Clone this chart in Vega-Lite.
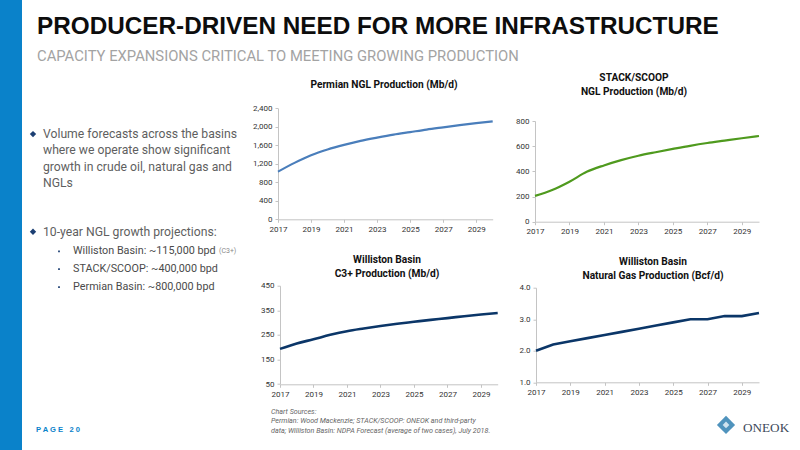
{
  "$schema": "https://vega.github.io/schema/vega-lite/v6.json",
  "background": "white",
  "padding": 0,
  "bounds": "flush",
  "spacing": 0,
  "config": {
    "view": {"stroke": null},
    "font": "Roboto",
    "axis": {"grid": false, "title": null, "domainColor": "#c4c4c4", "tickColor": "#c4c4c4", "tickSize": 3, "labelColor": "#333333", "labelFont": "Roboto", "labelFontSize": 8, "labelPadding": 3, "labelFlush": false},
    "title": {"font": "Roboto", "fontSize": 10.2, "fontWeight": "bold", "color": "#111111", "anchor": "middle", "lineHeight": 13.5}
  },
  "datasets": {
    "permian": [
      {"year": 2017, "value": 1030}, {"year": 2018, "value": 1220}, {"year": 2019, "value": 1385}, {"year": 2020, "value": 1510},
      {"year": 2021, "value": 1610}, {"year": 2022, "value": 1695}, {"year": 2023, "value": 1765}, {"year": 2024, "value": 1830},
      {"year": 2025, "value": 1885}, {"year": 2026, "value": 1940}, {"year": 2027, "value": 1988}, {"year": 2028, "value": 2035},
      {"year": 2029, "value": 2078}, {"year": 2030, "value": 2118}
    ],
    "stack": [
      {"year": 2017, "value": 205}, {"year": 2018, "value": 252}, {"year": 2019, "value": 318}, {"year": 2020, "value": 396},
      {"year": 2021, "value": 447}, {"year": 2022, "value": 489}, {"year": 2023, "value": 524}, {"year": 2024, "value": 552},
      {"year": 2025, "value": 578}, {"year": 2026, "value": 603}, {"year": 2027, "value": 625}, {"year": 2028, "value": 644},
      {"year": 2029, "value": 663}, {"year": 2030, "value": 681}
    ],
    "c3": [
      {"year": 2017, "value": 193}, {"year": 2018, "value": 215}, {"year": 2019, "value": 232}, {"year": 2020, "value": 250},
      {"year": 2021, "value": 265}, {"year": 2022, "value": 276}, {"year": 2023, "value": 286}, {"year": 2024, "value": 295},
      {"year": 2025, "value": 303}, {"year": 2026, "value": 311}, {"year": 2027, "value": 318}, {"year": 2028, "value": 326},
      {"year": 2029, "value": 333}, {"year": 2030, "value": 339}
    ],
    "gas": [
      {"year": 2017, "value": 2.0}, {"year": 2018, "value": 2.2}, {"year": 2019, "value": 2.3}, {"year": 2020, "value": 2.4},
      {"year": 2021, "value": 2.5}, {"year": 2022, "value": 2.6}, {"year": 2023, "value": 2.7}, {"year": 2024, "value": 2.8},
      {"year": 2025, "value": 2.9}, {"year": 2026, "value": 3.0}, {"year": 2027, "value": 3.0}, {"year": 2028, "value": 3.1},
      {"year": 2029, "value": 3.1}, {"year": 2030, "value": 3.2}
    ]
  },
  "hconcat": [
    {
      "width": 22,
      "height": 450,
      "data": {"values": [{"panel": "sidebar"}]},
      "mark": {"type": "rect", "color": "#0a82ca"}
    },
    {
      "bounds": "flush",
      "spacing": 0,
      "vconcat": [
        {
          "width": 778,
          "height": 108,
          "data": {"values": [
            {"line": 1, "indent": 1.5, "kind": "title", "text": "PRODUCER-DRIVEN NEED FOR MORE INFRASTRUCTURE"},
            {"line": 2, "indent": 1.5, "kind": "sub", "text": "CAPACITY EXPANSIONS CRITICAL TO MEETING GROWING PRODUCTION"}
          ]},
          "encoding": {
            "x": {"field": "indent", "type": "quantitative", "scale": {"domain": [0, 77.8]}, "axis": null},
            "y": {"field": "line", "type": "quantitative", "scale": {"domain": [3.7, 0.1], "nice": false, "zero": false}, "axis": null},
            "text": {"field": "text"}
          },
          "layer": [
            {"transform": [{"filter": "datum.kind == 'title'"}], "mark": {"type": "text", "font": "Liberation Sans", "align": "left", "baseline": "middle", "fontSize": 24.3, "fontWeight": "bold", "color": "#0d0d0d"}},
            {"transform": [{"filter": "datum.kind == 'sub'"}], "mark": {"type": "text", "align": "left", "baseline": "middle", "fontSize": 14.8, "color": "#a3a3a3"}}
          ]
        },
        {
          "bounds": "flush",
          "spacing": 0,
          "hconcat": [
            {
              "width": 256,
              "height": 342,
              "data": {"values": [
                {"line": 1, "indent": 2.1, "kind": "main", "text": "Volume forecasts across the basins"},
                {"line": 2, "indent": 2.1, "kind": "main", "text": "where we operate show significant"},
                {"line": 3, "indent": 2.1, "kind": "main", "text": "growth in crude oil, natural gas and"},
                {"line": 4, "indent": 2.1, "kind": "main", "text": "NGLs"},
                {"line": 7, "indent": 2.1, "kind": "main", "text": "10-year NGL growth projections:"},
                {"line": 8.2, "indent": 5.1, "kind": "item", "text": "Williston Basin: ~115,000 bpd"},
                {"line": 8.2, "indent": 19.7, "kind": "small", "text": "(C3+)"},
                {"line": 9.3, "indent": 5.1, "kind": "item", "text": "STACK/SCOOP: ~400,000 bpd"},
                {"line": 10.4, "indent": 5.1, "kind": "item", "text": "Permian Basin: ~800,000 bpd"},
                {"line": 19.2, "indent": 1.4, "kind": "page", "text": "P A G E \u00a0 2 0"},
                {"line": 18.06, "indent": 24.9, "kind": "note", "text": "Chart Sources:"},
                {"line": 18.61, "indent": 24.9, "kind": "note", "text": "Permian: Wood Mackenzie; STACK/SCOOP: ONEOK  and third-party"},
                {"line": 19.23, "indent": 24.9, "kind": "note", "text": "data; Williston Basin: NDPA Forecast (average of two cases), July 2018."},
                {"line": 19.07, "indent": 72.1, "kind": "logo", "text": "ONEOK"},
                {"line": 18.86, "indent": 70.4, "kind": "logomark"},
                {"line": 1, "indent": 1.1, "kind": "bullet"},
                {"line": 7, "indent": 1.1, "kind": "bullet"},
                {"line": 8.2, "indent": 3.7, "kind": "tick"},
                {"line": 9.3, "indent": 3.7, "kind": "tick"},
                {"line": 10.4, "indent": 3.7, "kind": "tick"}
              ]},
              "encoding": {
                "x": {"field": "indent", "type": "quantitative", "scale": {"domain": [0, 25.6]}, "axis": null},
                "y": {"field": "line", "type": "quantitative", "scale": {"domain": [20.4, -0.6], "nice": false, "zero": false}, "axis": null}
              },
              "layer": [
                {"transform": [{"filter": "datum.kind == 'main'"}], "mark": {"type": "text", "align": "left", "baseline": "middle", "fontSize": 12.2, "color": "#5f5f5f"}, "encoding": {"text": {"field": "text"}}},
                {"transform": [{"filter": "datum.kind == 'item'"}], "mark": {"type": "text", "align": "left", "baseline": "middle", "fontSize": 10.8, "color": "#4a4a4a"}, "encoding": {"text": {"field": "text"}}},
                {"transform": [{"filter": "datum.kind == 'small'"}], "mark": {"type": "text", "align": "left", "baseline": "middle", "fontSize": 7, "color": "#8a8a8a"}, "encoding": {"text": {"field": "text"}}},
                {"transform": [{"filter": "datum.kind == 'page'"}], "mark": {"type": "text", "font": "Liberation Sans", "align": "left", "baseline": "middle", "fontSize": 7.6, "fontWeight": "bold", "color": "#0a82ca"}, "encoding": {"text": {"field": "text"}}},
                {"transform": [{"filter": "datum.kind == 'note'"}], "mark": {"type": "text", "align": "left", "baseline": "middle", "fontSize": 7.15, "fontStyle": "italic", "color": "#666666"}, "encoding": {"text": {"field": "text"}}},
                {"transform": [{"filter": "datum.kind == 'logo'"}], "mark": {"type": "text", "align": "left", "baseline": "middle", "fontSize": 13.2, "font": "Liberation Serif", "color": "#3d4a5a"}, "encoding": {"text": {"field": "text"}}},
                {"transform": [{"filter": "datum.kind == 'logomark'"}], "mark": {"type": "point", "shape": "diamond", "filled": true, "opacity": 1, "size": 330, "color": "#4f93bd"}},
                {"transform": [{"filter": "datum.kind == 'logomark'"}], "mark": {"type": "point", "shape": "diamond", "filled": true, "opacity": 1, "size": 45, "color": "#cfe3ef"}},
                {"transform": [{"filter": "datum.kind == 'bullet'"}], "mark": {"type": "point", "shape": "diamond", "filled": true, "opacity": 1, "size": 40, "color": "#1c3f73"}},
                {"transform": [{"filter": "datum.kind == 'tick'"}], "mark": {"type": "point", "shape": "square", "filled": true, "opacity": 1, "size": 3, "color": "#1c3f73"}}
              ]
            },
            {
              "bounds": "flush",
              "columns": 2,
              "spacing": {"row": 63.7, "column": 37},
              "concat": [
                {
                  "width": 220,
                  "height": 114,
                  "title": {"text": "Permian NGL Production (Mb/d)", "dx": -4, "offset": 14},
                  "data": {"name": "permian"},
                  "mark": {"type": "line", "color": "#4a7ebb", "strokeWidth": 2.2, "interpolate": "monotone"},
                  "encoding": {
                    "x": {"field": "year", "type": "quantitative", "scale": {"domain": [2017, 2030], "range": [0, 214.7], "nice": false, "zero": false}, "axis": {"values": [2017, 2019, 2021, 2023, 2025, 2027, 2029], "format": "d", "offset": -2.7}},
                    "y": {"field": "value", "type": "quantitative", "scale": {"domain": [0, 2400], "range": [111.3, 0.3], "nice": false}, "axis": {"values": [0, 400, 800, 1200, 1600, 2000, 2400], "format": ",d"}}
                  }
                },
                {
                  "width": 224,
                  "height": 114,
                  "title": {"text": ["STACK/SCOOP", "NGL Production (Mb/d)"], "dx": -13, "offset": 11},
                  "data": {"name": "stack"},
                  "mark": {"type": "line", "color": "#4f9a1e", "strokeWidth": 2.2, "interpolate": "monotone"},
                  "encoding": {
                    "x": {"field": "year", "type": "quantitative", "scale": {"domain": [2017, 2030], "range": [0, 224], "nice": false, "zero": false}, "axis": {"values": [2017, 2019, 2021, 2023, 2025, 2027, 2029], "format": "d", "offset": -0.3}},
                    "y": {"field": "value", "type": "quantitative", "scale": {"domain": [0, 800], "range": [113.7, 13], "nice": false}, "axis": {"values": [0, 200, 400, 600, 800]}}
                  }
                },
                {
                  "width": 220,
                  "height": 98.6,
                  "title": {"text": ["Williston Basin", "C3+ Production (Mb/d)"], "dx": -1, "offset": 3},
                  "data": {"name": "c3"},
                  "mark": {"type": "line", "color": "#0b3668", "strokeWidth": 2.6, "interpolate": "monotone"},
                  "encoding": {
                    "x": {"field": "year", "type": "quantitative", "scale": {"domain": [2017, 2030], "range": [2, 219.7], "nice": false, "zero": false}, "axis": {"values": [2017, 2019, 2021, 2023, 2025, 2027, 2029], "format": "d"}},
                    "y": {"field": "value", "type": "quantitative", "scale": {"domain": [50, 450], "range": [98.3, 0], "nice": false, "zero": false}, "axis": {"values": [50, 150, 250, 350, 450], "offset": -2}}
                  }
                },
                {
                  "width": 224,
                  "height": 98.6,
                  "title": {"text": ["Williston Basin", "Natural Gas Production (Bcf/d)"], "dx": 6, "offset": 3},
                  "data": {"name": "gas"},
                  "mark": {"type": "line", "color": "#0b3668", "strokeWidth": 2.6},
                  "encoding": {
                    "x": {"field": "year", "type": "quantitative", "scale": {"domain": [2017, 2030], "range": [1, 224], "nice": false, "zero": false}, "axis": {"values": [2017, 2019, 2021, 2023, 2025, 2027, 2029], "format": "d", "offset": -2}},
                    "y": {"field": "value", "type": "quantitative", "scale": {"domain": [1, 4], "range": [96.6, 2], "nice": false, "zero": false}, "axis": {"values": [1, 2, 3, 4], "format": ".1f", "offset": -1}}
                  }
                }
              ]
            }
          ]
        }
      ]
    }
  ]
}
